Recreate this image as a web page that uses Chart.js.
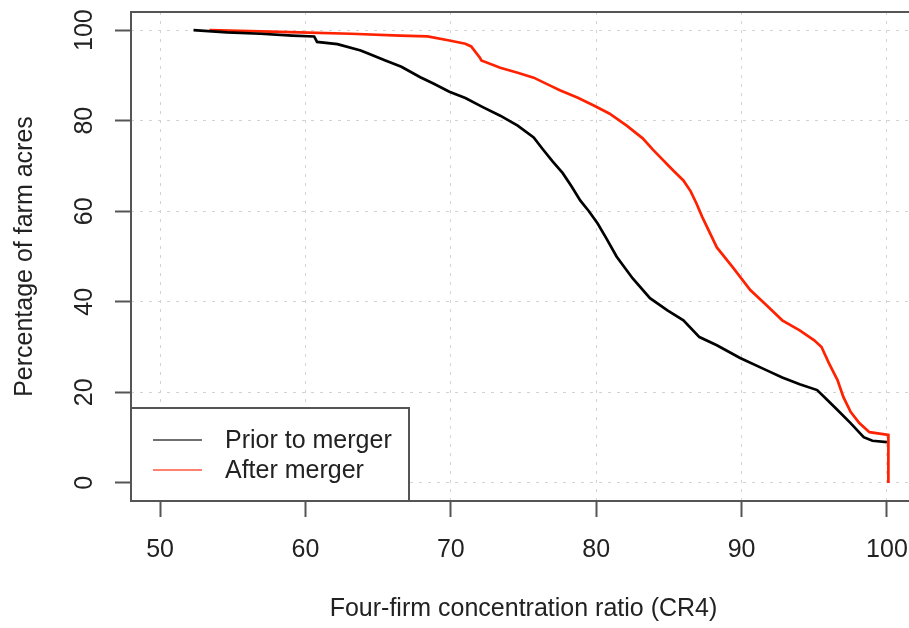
<!DOCTYPE html>
<html>
<head>
<meta charset="utf-8">
<script src="https://cdn.jsdelivr.net/npm/chart.js@4/dist/chart.umd.min.js"></script>
<style>
  html, body { margin: 0; padding: 0; background: #fff; overflow: hidden; }
  canvas { display: block; }
</style>
</head>
<body>
<canvas id="myChart" width="940" height="628"></canvas>
<script>
// CR4 values (x) and percentage of farm acres (y)
const priorX = [52.3, 54.6, 56.9, 59.1, 60.6, 60.8, 62.2, 63.8, 64.4, 65.5, 66.6, 67.9, 68.8, 69.9,
  71.0, 72.2, 73.4, 74.6, 75.7, 76.3, 77.0, 77.7, 78.3, 78.9, 79.5, 80.1, 80.7, 81.4, 82.5, 83.7,
  84.9, 86.0, 87.1, 88.3, 89.9, 91.7, 92.8, 94.0, 95.2, 95.9, 96.6, 97.5, 98.4, 99.0, 100.0];
const priorY = [100, 99.5, 99.2, 98.8, 98.6, 97.4, 96.9, 95.5, 94.7, 93.3, 91.9, 89.6, 88.2, 86.4,
  85.0, 83.0, 81.1, 78.9, 76.3, 73.8, 71.0, 68.4, 65.5, 62.4, 60.0, 57.3, 54.0, 50.0, 45.2, 40.8,
  38.1, 35.9, 32.2, 30.4, 27.6, 24.9, 23.3, 21.8, 20.5, 18.3, 16.1, 13.2, 10.1, 9.3, 9.0];

const afterX = [53.4, 56.9, 59.6, 63.1, 66.5, 68.4, 69.9, 71.0, 71.4, 72.0, 72.1, 73.4, 74.6, 75.7,
  76.8, 77.5, 78.7, 79.8, 80.9, 82.1, 83.2, 83.9, 85.3, 86.0, 86.5, 86.9, 87.3, 88.3, 89.4, 90.6,
  91.7, 92.8, 94.0, 95.0, 95.5, 96.0, 96.6, 97.0, 97.5, 98.1, 98.8, 100.1, 100.1];
const afterY = [100, 99.7, 99.5, 99.2, 98.8, 98.6, 97.7, 97.0, 96.4, 93.9, 93.3, 91.7, 90.6, 89.5,
  87.8, 86.7, 85.1, 83.4, 81.6, 78.9, 76.1, 73.6, 69.0, 66.8, 64.4, 61.7, 58.7, 52.0, 47.6, 42.6,
  39.3, 35.9, 33.7, 31.5, 30.0, 26.5, 22.7, 19.0, 15.7, 13.2, 11.2, 10.6, 0];

const xTicks = [50, 60, 70, 80, 90, 100];
const yTicks = [0, 20, 40, 60, 80, 100];

const seriesLabels = ['Prior to merger', 'After merger'];
const seriesColors = ['#000000', '#ff2200'];

const font = { family: "'Liberation Sans', Arial, sans-serif", size: 25 };
const textColor = '#222';

function toPoints(xs, ys) {
  return xs.map((x, i) => ({ x: x, y: ys[i] }));
}

// box round the plot and the legend in its lower left corner, R style
const frameAndLegend = {
  id: 'frameAndLegend',
  afterDraw(chart) {
    const ctx = chart.ctx;
    const a = chart.chartArea;
    ctx.save();
    ctx.strokeStyle = '#555';
    ctx.lineWidth = 2;
    ctx.strokeRect(a.left, a.top, a.right - a.left, a.bottom - a.top);

    const boxLeft = a.left;
    const boxTop = 408;
    const boxRight = 409;
    ctx.fillStyle = '#fff';
    ctx.fillRect(boxLeft, boxTop, boxRight - boxLeft, a.bottom - boxTop);
    ctx.strokeRect(boxLeft, boxTop, boxRight - boxLeft, a.bottom - boxTop);

    ctx.font = font.size + 'px ' + font.family;
    ctx.textBaseline = 'middle';
    ctx.textAlign = 'left';
    chart.data.datasets.forEach((ds, i) => {
      const y = 440 + i * 30;
      ctx.globalAlpha = 0.75;
      ctx.strokeStyle = ds.borderColor;
      ctx.lineWidth = 1.6;
      ctx.beginPath();
      ctx.moveTo(153, y);
      ctx.lineTo(202, y);
      ctx.stroke();
      ctx.globalAlpha = 1;
      ctx.fillStyle = textColor;
      ctx.fillText(ds.label, 225, y + 1);
    });
    ctx.restore();
  }
};

const context = document.getElementById('myChart').getContext('2d');

const chart = new Chart(context, {
  type: 'line',
  data: {
    datasets: [
      {
        label: seriesLabels[0],
        data: toPoints(priorX, priorY),
        borderColor: seriesColors[0],
        borderWidth: 2.7,
        pointRadius: 0,
        tension: 0,
      },
      {
        label: seriesLabels[1],
        data: toPoints(afterX, afterY),
        borderColor: seriesColors[1],
        borderWidth: 2.7,
        pointRadius: 0,
        tension: 0,
      },
    ],
  },
  options: {
    responsive: false,
    animation: false,
    devicePixelRatio: 1,
    layout: { padding: { top: 12, right: 24, left: 0, bottom: 0 } },
    plugins: {
      legend: { display: false },
      tooltip: { enabled: false },
    },
    scales: {
      x: {
        type: 'linear',
        min: 48,
        max: 102,
        afterBuildTicks: (s) => { s.ticks = xTicks.map((v) => ({ value: v })); },
        afterFit: (s) => { s.height = 127; s.paddingLeft = 0; s.paddingRight = 0; },
        grid: { color: 'lightgray', lineWidth: 1, tickLength: 16, tickColor: '#555', tickWidth: 2 },
        border: { display: false, dash: [3, 6] },
        ticks: { font: font, color: textColor, padding: 18, maxRotation: 0, autoSkip: false },
        title: {
          display: true,
          text: 'Four-firm concentration ratio (CR4)',
          font: font,
          color: textColor,
          padding: { top: 0, bottom: 4 },
        },
      },
      y: {
        type: 'linear',
        min: -4,
        max: 104,
        afterBuildTicks: (s) => { s.ticks = yTicks.map((v) => ({ value: v })); },
        afterFit: (s) => { s.width = 131; s.paddingTop = 0; s.paddingBottom = 0; },
        grid: { color: 'lightgray', lineWidth: 1, tickLength: 16, tickColor: '#555', tickWidth: 2 },
        border: { display: false, dash: [3, 6] },
        ticks: {
          font: font,
          color: textColor,
          padding: 9,
          minRotation: 90,
          maxRotation: 90,
          crossAlign: 'center',
          autoSkip: false,
        },
        title: {
          display: true,
          text: 'Percentage of farm acres',
          font: font,
          color: textColor,
          padding: { top: 10, bottom: 0 },
        },
      },
    },
  },
  plugins: [frameAndLegend],
});
</script>
</body>
</html>
